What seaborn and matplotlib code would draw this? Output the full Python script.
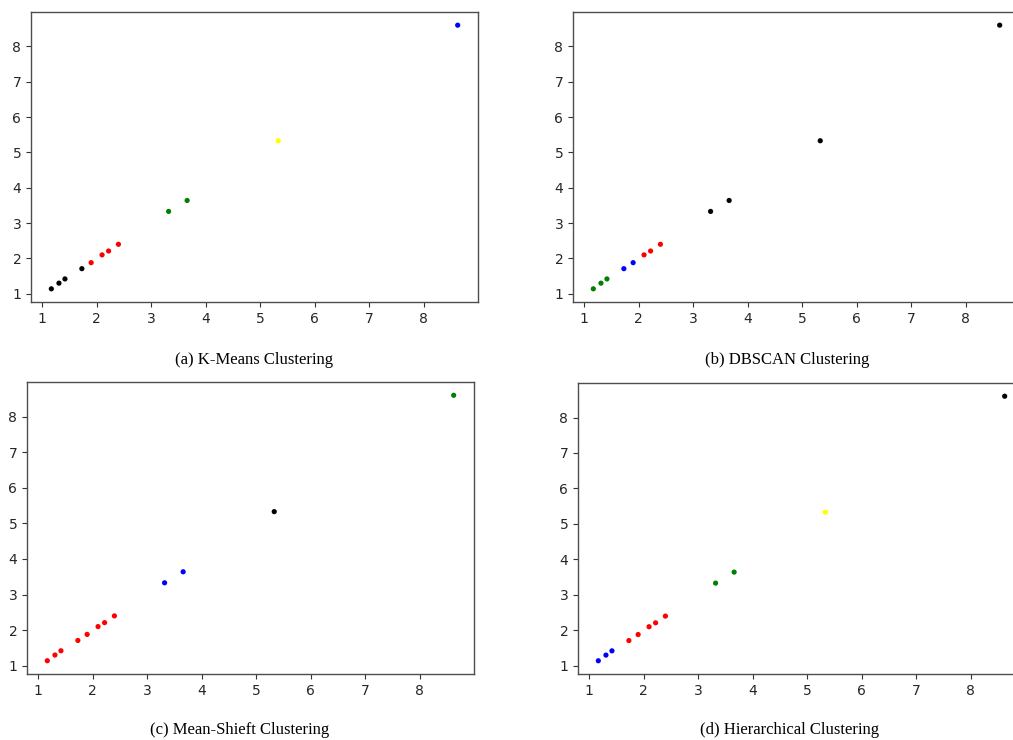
import matplotlib
matplotlib.use("Agg")
import matplotlib.pyplot as plt
import seaborn as sns
import pandas as pd

# data points
x_vals = [1.17, 1.31, 1.42, 1.73, 1.90, 2.10, 2.22, 2.40, 3.32, 3.66, 5.33, 8.62]
y_vals = [1.14, 1.30, 1.42, 1.71, 1.88, 2.10, 2.21, 2.40, 3.33, 3.64, 5.33, 8.60]

# cluster colours per method
kmeans_colors = ["black", "black", "black", "black", "red", "red", "red", "red",
                 "green", "green", "yellow", "blue"]
dbscan_colors = ["green", "green", "green", "blue", "blue", "red", "red", "red",
                 "black", "black", "black", "black"]
meanshift_colors = ["red", "red", "red", "red", "red", "red", "red", "red",
                    "blue", "blue", "black", "green"]
hier_colors = ["blue", "blue", "blue", "red", "red", "red", "red", "red",
               "green", "green", "yellow", "black"]

captions = ["(a) K-Means Clustering", "(b) DBSCAN Clustering",
            "(c) Mean-Shieft Clustering", "(d) Hierarchical Clustering"]
ticks = [1, 2, 3, 4, 5, 6, 7, 8]

sns.set_style("ticks")
W, H = 1013, 740
fig = plt.figure(figsize=(W / 100, H / 100), dpi=100)

# panel boxes in pixels: left, top, right, bottom
boxes = [(31, 12, 478, 302), (573, 12, 1020, 302),
         (27, 382, 474, 674), (578, 383, 1025, 674)]
cap_pos = [(254, 360), (787, 360), (240, 730), (790, 730)]
color_sets = [kmeans_colors, dbscan_colors, meanshift_colors, hier_colors]
palette = {c: c for c in ["black", "red", "green", "yellow", "blue"]}

for (l, t, r, b), cols, cap, (cx, cy) in zip(boxes, color_sets, captions, cap_pos):
    ax = fig.add_axes([l / W, 1 - b / H, (r - l) / W, (b - t) / H])
    df = pd.DataFrame({"x": x_vals, "y": y_vals, "c": cols})
    sns.scatterplot(data=df, x="x", y="y", hue="c", palette=palette, s=14,
                    linewidth=0, legend=False, ax=ax)
    ax.set_xlabel("")
    ax.set_ylabel("")
    ax.set_xticks(ticks)
    ax.set_yticks(ticks)
    ax.margins(0.05)
    for sp in ax.spines.values():
        sp.set_color("#4d4d4d")
        sp.set_linewidth(1.0)
    ax.tick_params(colors="#333333", labelsize=10, length=3.5, width=0.8,
                   labelcolor="#262626")
    fig.text(cx / W, 1 - cy / H, cap, ha="center", va="center",
             family="Liberation Serif", fontsize=12, color="black")

fig.savefig("out.png", dpi=100)
